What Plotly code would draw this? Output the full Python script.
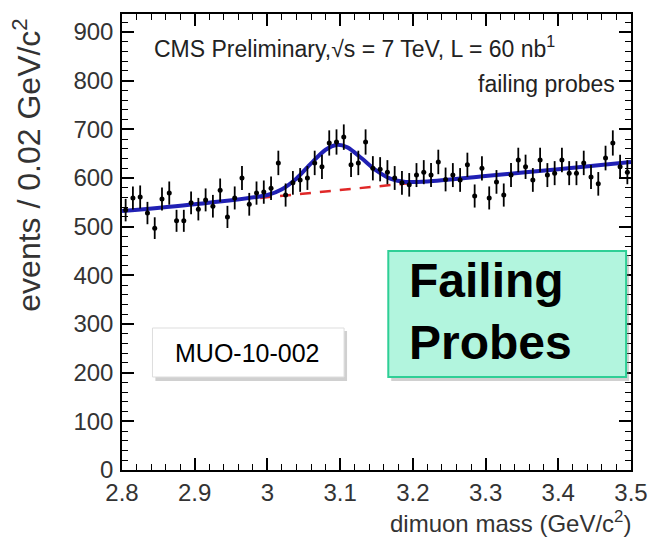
import numpy as np
import plotly.graph_objects as go

# ---- data ----
bin_centers = [round(2.805 + 0.01 * i, 3) for i in range(70)]
counts = [534, 559, 561, 528, 497, 557, 569, 512, 512, 549,
          536, 555, 542, 575, 520, 559, 600, 546, 569, 571,
          579, 631, 565, 590, 596, 600, 631, 623, 672, 674,
          684, 627, 631, 674, 620, 618, 612, 600, 590, 586,
          606, 612, 606, 633, 597, 606, 596, 627, 563, 620,
          559, 592, 565, 606, 637, 623, 596, 637, 606, 610,
          637, 610, 610, 631, 602, 588, 641, 672, 623, 612]
errors = [float(np.sqrt(c)) for c in counts]

fit_x = [2.80, 2.90, 3.00, 3.02, 3.04, 3.06, 3.08, 3.095, 3.11, 3.13,
         3.15, 3.17, 3.19, 3.22, 3.30, 3.40, 3.50]
fit_y = [532, 546, 565, 577, 599, 630, 658, 668, 663, 640,
         615, 598, 592, 593, 604, 618, 633]

bkg_x = [2.99, 3.20]
bkg_y = [559, 590]

x_ticks = [2.8, 2.9, 3.0, 3.1, 3.2, 3.3, 3.4, 3.5]
x_tick_labels = ["2.8", "2.9", "3", "3.1", "3.2", "3.3", "3.4", "3.5"]
y_ticks = [0, 100, 200, 300, 400, 500, 600, 700, 800, 900]

W, H = 660, 537
L, R, T, B = 122, 20, 14, 67
PW, PH = W - L - R, H - T - B


def px(x):
    return (x - L) / PW


def py(y):
    return (H - B - y) / PH


fig = go.Figure()

fig.add_trace(go.Scatter(x=bkg_x, y=bkg_y, mode="lines",
                         line=dict(color="#e02828", width=2.5, dash="11px,9px"),
                         hoverinfo="skip", showlegend=False))
fig.add_trace(go.Scatter(x=fit_x, y=fit_y, mode="lines",
                         line=dict(color="#2020b4", width=4, shape="spline", smoothing=0.8),
                         hoverinfo="skip", showlegend=False))
fig.add_trace(go.Scatter(x=bin_centers, y=counts, mode="markers",
                         marker=dict(color="black", size=5),
                         error_y=dict(type="data", array=errors, color="black",
                                      thickness=1.8, width=0),
                         showlegend=False))

font_main = "Liberation Sans, Arial, sans-serif"

fig.update_xaxes(range=[2.8, 3.5], tickvals=x_ticks, ticktext=x_tick_labels,
                 ticks="inside", ticklen=12, tickwidth=1.5, tickcolor="black",
                 minor=dict(dtick=0.02, ticks="inside", ticklen=6, tickwidth=1.2,
                            tickcolor="black"),
                 showline=True, linecolor="black", linewidth=1.5, mirror="allticks",
                 showgrid=False, zeroline=False,
                 tickfont=dict(family=font_main, size=24, color="#333"))
fig.update_yaxes(range=[0, 937], tickvals=y_ticks,
                 ticks="inside", ticklen=12, tickwidth=1.5, tickcolor="black",
                 minor=dict(dtick=20, ticks="inside", ticklen=6, tickwidth=1.2,
                            tickcolor="black"),
                 showline=True, linecolor="black", linewidth=1.5, mirror="allticks",
                 showgrid=False, zeroline=False, ticklabelstandoff=2,
                 tickfont=dict(family=font_main, size=24, color="#333"))

shapes = []
# MUO box shadow + box
shapes.append(dict(type="rect", xref="paper", yref="paper",
                   x0=px(156), x1=px(351), y0=py(381), y1=py(331),
                   fillcolor="rgba(120,120,120,0.35)", line=dict(width=0), layer="above"))
shapes.append(dict(type="rect", xref="paper", yref="paper",
                   x0=px(153), x1=px(348), y0=py(377), y1=py(328),
                   fillcolor="white", line=dict(color="#dddddd", width=1), layer="above"))
# Failing Probes box shadow + box
shapes.append(dict(type="rect", xref="paper", yref="paper",
                   x0=px(396), x1=px(638), y0=py(381), y1=py(255),
                   fillcolor="rgba(120,120,120,0.35)", line=dict(width=0), layer="above"))
shapes.append(dict(type="rect", xref="paper", yref="paper",
                   x0=px(393), x1=px(635), y0=py(377), y1=py(251),
                   fillcolor="#b2f5de", line=dict(color="#2fcf96", width=2), layer="above"))

annotations = [
    dict(text="CMS Preliminary,√s = 7 TeV, L = 60 nb<sup>1</sup>", xref="paper", yref="paper",
         x=px(153), y=py(47), xanchor="left", yanchor="middle", showarrow=False,
         font=dict(family=font_main, size=23, color="#222")),
    dict(text="failing probes", xref="paper", yref="paper",
         x=px(626), y=py(84), xanchor="right", yanchor="middle", showarrow=False,
         font=dict(family=font_main, size=23, color="#222")),
    dict(text="events / 0.02 GeV/c<sup>2</sup>", xref="paper", yref="paper",
         x=px(25), y=py(16), xanchor="center", yanchor="top", textangle=-90, showarrow=False,
         font=dict(family=font_main, size=32, color="#333")),
    dict(text="dimuon mass (GeV/c<sup>2</sup>)", xref="paper", yref="paper",
         x=px(642), y=py(522), xanchor="right", yanchor="middle", showarrow=False,
         font=dict(family=font_main, size=24, color="#333")),
    dict(text="MUO-10-002", xref="paper", yref="paper",
         x=px(250), y=py(353), xanchor="center", yanchor="middle", showarrow=False,
         font=dict(family=font_main, size=25, color="black")),
    dict(text="<b>Failing<br>Probes</b>", xref="paper", yref="paper",
         x=px(412), y=py(312), xanchor="left", yanchor="middle", align="left",
         showarrow=False,
         font=dict(family=font_main, size=48, color="black")),
]

fig.update_layout(width=W, height=H, margin=dict(l=L, r=R, t=T, b=B),
                  paper_bgcolor="white", plot_bgcolor="white",
                  shapes=shapes, annotations=annotations, showlegend=False)

fig.write_html("out.html")
